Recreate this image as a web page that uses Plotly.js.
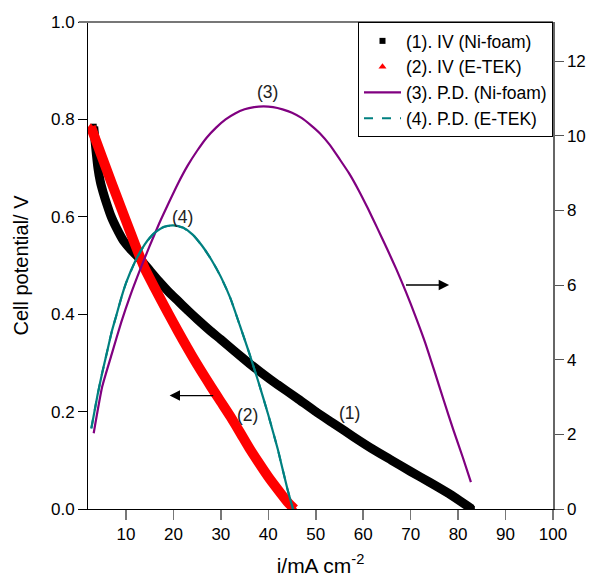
<!DOCTYPE html>
<html>
<head>
<meta charset="utf-8">
<script src="https://cdn.plot.ly/plotly-3.0.1.min.js"></script>
<style>html,body{margin:0;padding:0;background:#fff;}#chart{width:597px;height:579px;}</style>
</head>
<body>
<div id="chart"></div>
<script>
// (1) IV Ni-foam: current density (mA cm-2) and cell potential (V)
const currentNi = [3.2, 3.6, 4.1, 4.6, 5.2, 6, 6.9, 8, 9.4, 11, 13.2, 15, 17, 19, 21, 23, 25, 28, 30, 33, 36, 38.5, 42, 46, 50, 54, 58, 62, 66, 70, 74, 78, 82.9];
const voltageNi = [0.785, 0.745, 0.70, 0.672, 0.65, 0.625, 0.60, 0.577, 0.552, 0.533, 0.511, 0.49, 0.467, 0.446, 0.427, 0.408, 0.39, 0.364, 0.348, 0.323, 0.299, 0.28, 0.255, 0.228, 0.20, 0.174, 0.148, 0.123, 0.10, 0.077, 0.055, 0.032, 0.0];

// (2) IV E-TEK
const currentET = [2.6, 4, 6, 8, 10, 12, 14, 16, 18, 20, 22, 24, 26, 28, 30, 32, 34, 36, 38, 40, 42, 44, 45.5];
const voltageET = [0.785, 0.748, 0.695, 0.643, 0.592, 0.541, 0.493, 0.455, 0.418, 0.382, 0.347, 0.313, 0.281, 0.25, 0.22, 0.19, 0.158, 0.125, 0.095, 0.066, 0.04, 0.015, 0.0];

// (3) P.D. Ni-foam (mW cm-2)
const pdCurrentNi = [3.2, 5, 7, 9, 11, 13, 15, 17, 19, 21, 23, 25, 27, 29, 31, 33, 35, 37, 39, 41, 43, 45, 47, 49, 51, 53, 55, 57, 59, 61, 63, 65, 67, 69, 71, 73, 75, 77, 79, 81, 82.7];
const pdNi = [2.03, 3.28, 4.15, 5.0, 5.75, 6.42, 7.05, 7.65, 8.2, 8.73, 9.2, 9.6, 9.95, 10.22, 10.44, 10.6, 10.71, 10.77, 10.79, 10.77, 10.71, 10.62, 10.48, 10.28, 10.05, 9.75, 9.38, 9.0, 8.55, 8.05, 7.52, 6.98, 6.42, 5.82, 5.17, 4.48, 3.7, 2.9, 2.12, 1.38, 0.72];

// (4) P.D. E-TEK
const pdCurrentET = [2.7, 4, 5, 6, 7, 8, 9, 10, 12, 14, 16, 18, 20, 22, 24, 26, 28, 30, 32, 34, 36, 38, 40, 42, 44, 45.2];
const pdET = [2.16, 3.05, 3.65, 4.2, 4.75, 5.2, 5.65, 6.05, 6.65, 7.1, 7.4, 7.56, 7.6, 7.54, 7.36, 7.06, 6.68, 6.22, 5.65, 4.92, 4.17, 3.37, 2.52, 1.6, 0.55, 0.0];

const legendNames = ['(1). IV (Ni-foam)', '(2). IV (E-TEK)', '(3). P.D. (Ni-foam)', '(4). P.D. (E-TEK)'];
const xTicks = [10, 20, 30, 40, 50, 60, 70, 80, 90, 100];

const FONT = 'Liberation Sans, Arial, Helvetica, sans-serif';
const purple = '#800080', teal = '#008080';

const traces = [
  {x: currentNi, y: voltageNi, mode: 'lines', line: {color: '#000', width: 9, shape: 'spline', smoothing: 0.5}, showlegend: false, hoverinfo: 'skip'},
  {x: currentNi, y: voltageNi, mode: 'markers', name: legendNames[0], marker: {symbol: 'square', size: 6, color: '#000'}},
  {x: currentET, y: voltageET, mode: 'lines', line: {color: '#ff0000', width: 10, shape: 'spline', smoothing: 0.5}, showlegend: false, hoverinfo: 'skip'},
  {x: currentET, y: voltageET, mode: 'markers', name: legendNames[1], marker: {symbol: 'triangle-up', size: 7, color: '#ff0000'}},
  {x: pdCurrentNi, y: pdNi, yaxis: 'y2', mode: 'lines', name: legendNames[2], line: {color: purple, width: 2.2, shape: 'spline', smoothing: 0.5}},
  {x: pdCurrentET, y: pdET, yaxis: 'y2', mode: 'lines', name: legendNames[3], line: {color: teal, width: 2, dash: 'dash', shape: 'spline', smoothing: 0.5}},
  {x: pdCurrentET, y: pdET, yaxis: 'y2', mode: 'lines', showlegend: false, line: {color: teal, width: 2.2, shape: 'spline', smoothing: 0.5}}
];

const layout = {
  width: 597, height: 579,
  margin: {l: 88, r: 44, t: 22, b: 70},
  paper_bgcolor: '#fff', plot_bgcolor: '#fff',
  font: {family: FONT, size: 17, color: '#000'},
  showlegend: true,
  legend: {
    x: 1, xanchor: 'right', y: 1, yanchor: 'top',
    bgcolor: '#fff', bordercolor: '#000', borderwidth: 1,
    font: {family: FONT, size: 17.5, color: '#000'},
    itemwidth: 37, tracegroupgap: 0
  },
  xaxis: {
    range: [2, 100], tickvals: xTicks, ticks: 'outside', ticklen: 10, tickcolor: '#777', tickwidth: 1.5,
    showline: true, linecolor: '#000', linewidth: 1, showgrid: false, zeroline: false,
    tickfont: {family: FONT, size: 17, color: '#000'},
    title: {text: 'i/mA cm<sup>-2</sup>', font: {family: FONT, size: 21, color: '#000'}, standoff: 14}
  },
  yaxis: {
    range: [0, 1], dtick: 0.2, tickformat: '.1f', ticks: 'outside', ticklen: 9, tickcolor: '#000',
    showline: true, linecolor: '#000', linewidth: 1, showgrid: false, zeroline: false,
    tickfont: {family: FONT, size: 17, color: '#000'},
    title: {text: 'Cell potential/ V', font: {family: FONT, size: 20, color: '#000'}, standoff: 16}
  },
  yaxis2: {
    range: [0, 13.05], dtick: 2, overlaying: 'y', side: 'right', ticks: 'outside', ticklen: 9, tickcolor: '#555',
    showline: true, linecolor: '#666', linewidth: 1.5, showgrid: false, zeroline: false,
    tickfont: {family: FONT, size: 17, color: '#000'}
  },
  shapes: [
    {type: 'line', xref: 'paper', yref: 'paper', x0: -0.02, x1: 1, y0: 1, y1: 1, line: {color: '#777', width: 2}}
  ],
  annotations: [
    {x: 39.9, y: 0.857, xref: 'x', yref: 'y', text: '(3)', showarrow: false, font: {family: FONT, size: 17.5, color: '#222'}},
    {x: 22.0, y: 0.599, xref: 'x', yref: 'y', text: '(4)', showarrow: false, font: {family: FONT, size: 17.5, color: '#222'}},
    {x: 57.1, y: 0.197, xref: 'x', yref: 'y', text: '(1)', showarrow: false, font: {family: FONT, size: 17.5, color: '#222'}},
    {x: 35.7, y: 0.193, xref: 'x', yref: 'y', text: '(2)', showarrow: false, font: {family: FONT, size: 17.5, color: '#222'}},
    {x: 19.2, y: 0.233, xref: 'x', yref: 'y', ax: 28.7, ay: 0.233, axref: 'x', ayref: 'y', text: '', showarrow: true, arrowhead: 2, arrowsize: 1.6, arrowwidth: 1.3, arrowcolor: '#000'},
    {x: 78.1, y: 0.46, xref: 'x', yref: 'y', ax: 68.7, ay: 0.46, axref: 'x', ayref: 'y', text: '', showarrow: true, arrowhead: 2, arrowsize: 1.6, arrowwidth: 1.3, arrowcolor: '#000'}
  ]
};

Plotly.newPlot('chart', traces, layout, {displayModeBar: false, staticPlot: true});
</script>
</body>
</html>
